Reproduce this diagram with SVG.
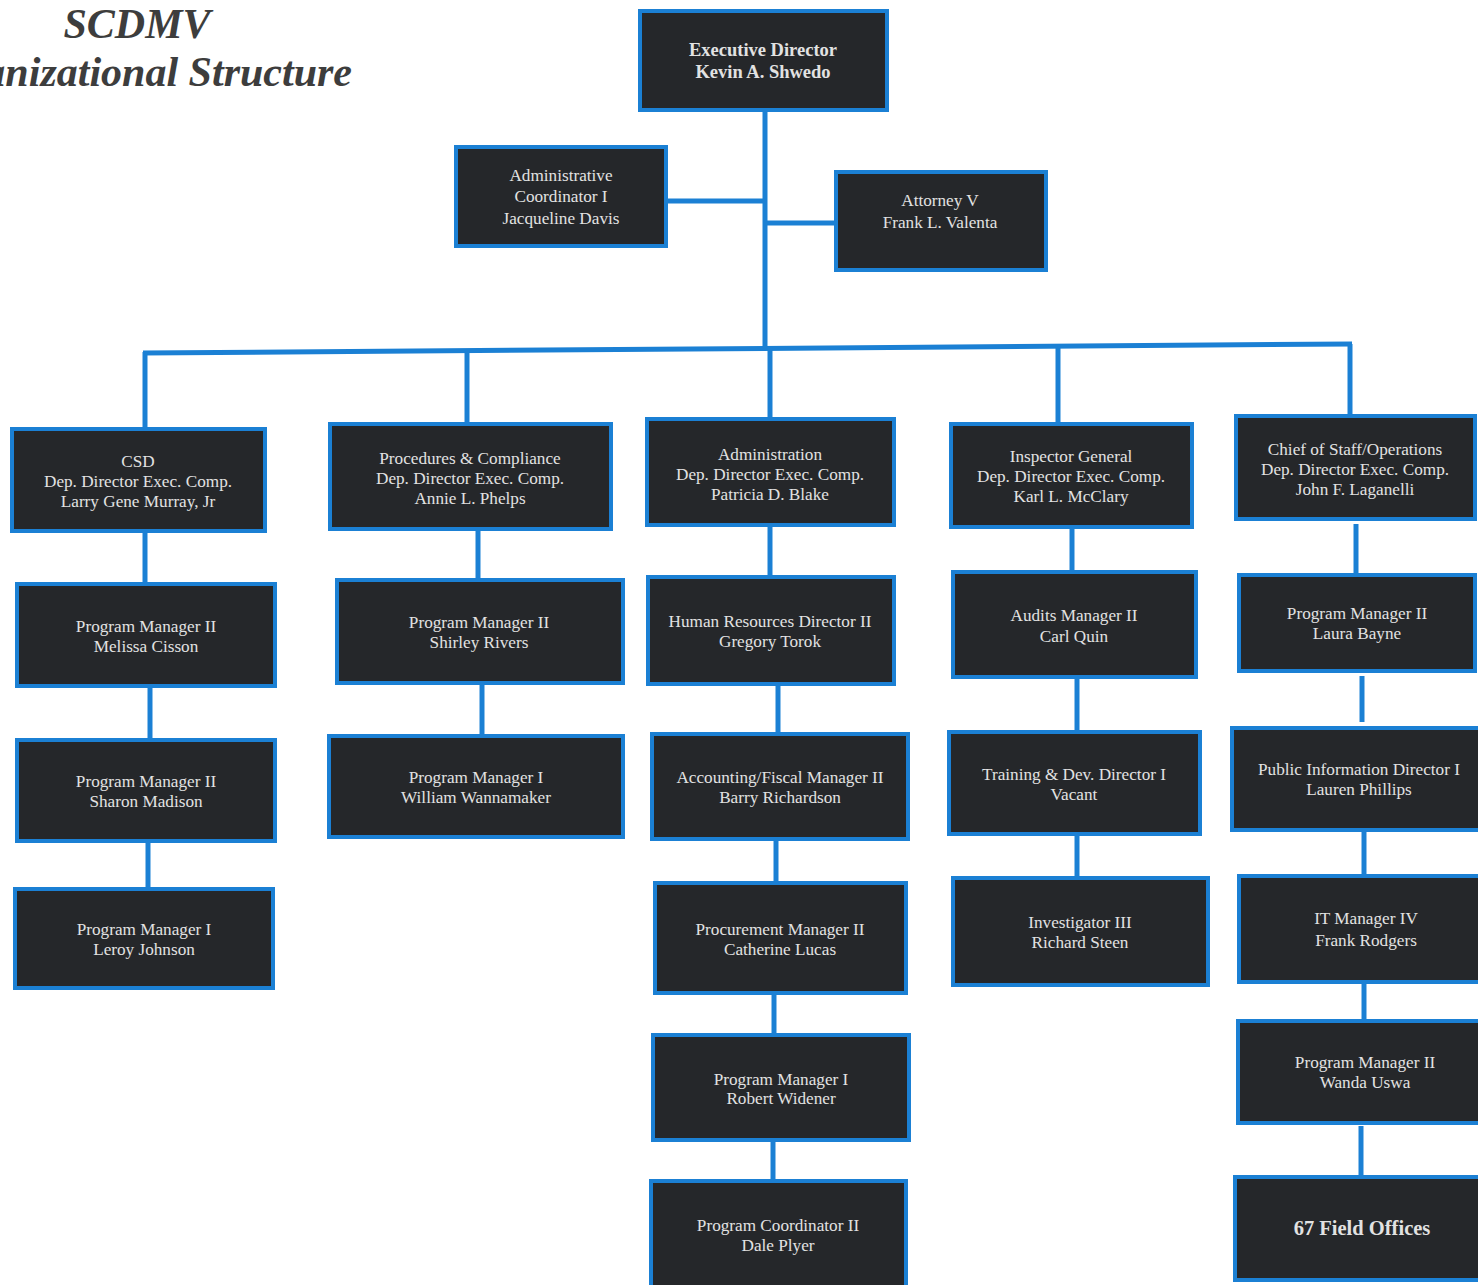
<svg xmlns="http://www.w3.org/2000/svg" width="1478" height="1285" viewBox="0 0 1478 1285">
<style>
.bg{fill:#ffffff}
.box{fill:#25272a;stroke:#1b80d4;stroke-width:4}
.t{font-family:"Liberation Serif","Times New Roman",serif;font-size:17.2px;fill:#e2e2e2;text-anchor:middle}
.b{font-weight:bold;font-size:18.5px}
.title{font-family:"Liberation Serif","Times New Roman",serif;font-size:42px;font-weight:bold;font-style:italic;fill:#3d3d3d}
.c{fill:none;stroke:#1b80d4;stroke-width:5}
</style>
<rect class="bg" x="0" y="0" width="1478" height="1285"/>
<g id="title">
<text class="title" x="137" y="38" text-anchor="middle">SCDMV</text>
<text class="title" x="352" y="86" text-anchor="end">Organizational Structure</text>
</g>
<g id="connectors">
<path class="c" d="M765,110 V350"/>
<path class="c" d="M666,201 H765"/>
<path class="c" d="M765,223 H835"/>
<path class="c" d="M143,353 L1352,344"/>
<path class="c" d="M145,352 V428"/>
<path class="c" d="M467,351 V423"/>
<path class="c" d="M770,348 V418"/>
<path class="c" d="M1058,346 V422"/>
<path class="c" d="M1350,344 V415"/>
<path class="c" d="M145,531 V583"/>
<path class="c" d="M150,686 V739"/>
<path class="c" d="M148,841 V888"/>
<path class="c" d="M478,529 V579"/>
<path class="c" d="M482,683 V735"/>
<path class="c" d="M770,525 V576"/>
<path class="c" d="M778,684 V733"/>
<path class="c" d="M776,839 V882"/>
<path class="c" d="M774,993 V1034"/>
<path class="c" d="M773,1140 V1180"/>
<path class="c" d="M1072,527 V571"/>
<path class="c" d="M1077,677 V731"/>
<path class="c" d="M1077,834 V877"/>
<path class="c" d="M1356,524 V574"/>
<path class="c" d="M1362,676 V722"/>
<path class="c" d="M1364,830 V875"/>
<path class="c" d="M1364,982 V1020"/>
<path class="c" d="M1361,1126 V1175"/>
</g>
<g id="n-exec"><rect class="box" x="640" y="11" width="247" height="99"/><text class="t b"><tspan x="763" y="56">Executive Director</tspan><tspan x="763" y="78">Kevin A. Shwedo</tspan></text></g>
<g id="n-admincoord"><rect class="box" x="456" y="147" width="210" height="99"/><text class="t"><tspan x="561" y="181">Administrative</tspan><tspan x="561" y="202">Coordinator I</tspan><tspan x="561" y="224">Jacqueline Davis</tspan></text></g>
<g id="n-attorney"><rect class="box" x="836" y="172" width="210" height="98"/><text class="t"><tspan x="940" y="206">Attorney V</tspan><tspan x="940" y="228">Frank L. Valenta</tspan></text></g>
<g id="n-csd"><rect class="box" x="12" y="429" width="253" height="102"/><text class="t"><tspan x="138" y="467">CSD</tspan><tspan x="138" y="487">Dep. Director Exec. Comp.</tspan><tspan x="138" y="507">Larry Gene Murray, Jr</tspan></text></g>
<g id="n-proc"><rect class="box" x="330" y="424" width="281" height="105"/><text class="t"><tspan x="470" y="464">Procedures &amp; Compliance</tspan><tspan x="470" y="484">Dep. Director Exec. Comp.</tspan><tspan x="470" y="504">Annie L. Phelps</tspan></text></g>
<g id="n-admin"><rect class="box" x="647" y="419" width="247" height="106"/><text class="t"><tspan x="770" y="460">Administration</tspan><tspan x="770" y="480">Dep. Director Exec. Comp.</tspan><tspan x="770" y="500">Patricia D. Blake</tspan></text></g>
<g id="n-ig"><rect class="box" x="951" y="424" width="241" height="103"/><text class="t"><tspan x="1071" y="462">Inspector General</tspan><tspan x="1071" y="482">Dep. Director Exec. Comp.</tspan><tspan x="1071" y="502">Karl L. McClary</tspan></text></g>
<g id="n-cos"><rect class="box" x="1236" y="416" width="239" height="103"/><text class="t"><tspan x="1355" y="455">Chief of Staff/Operations</tspan><tspan x="1355" y="475">Dep. Director Exec. Comp.</tspan><tspan x="1355" y="495">John F. Laganelli</tspan></text></g>
<g id="n-melissa"><rect class="box" x="17" y="584" width="258" height="102"/><text class="t"><tspan x="146" y="632">Program Manager II</tspan><tspan x="146" y="652">Melissa Cisson</tspan></text></g>
<g id="n-sharon"><rect class="box" x="17" y="740" width="258" height="101"/><text class="t"><tspan x="146" y="787">Program Manager II</tspan><tspan x="146" y="807">Sharon Madison</tspan></text></g>
<g id="n-leroy"><rect class="box" x="15" y="889" width="258" height="99"/><text class="t"><tspan x="144" y="935">Program Manager I</tspan><tspan x="144" y="955">Leroy Johnson</tspan></text></g>
<g id="n-shirley"><rect class="box" x="337" y="580" width="286" height="103"/><text class="t"><tspan x="479" y="628">Program Manager II</tspan><tspan x="479" y="648">Shirley Rivers</tspan></text></g>
<g id="n-william"><rect class="box" x="329" y="736" width="294" height="101"/><text class="t"><tspan x="476" y="783">Program Manager I</tspan><tspan x="476" y="803">William Wannamaker</tspan></text></g>
<g id="n-hr"><rect class="box" x="648" y="577" width="246" height="107"/><text class="t"><tspan x="770" y="627">Human Resources Director II</tspan><tspan x="770" y="647">Gregory Torok</tspan></text></g>
<g id="n-acct"><rect class="box" x="652" y="734" width="256" height="105"/><text class="t"><tspan x="780" y="783">Accounting/Fiscal Manager II</tspan><tspan x="780" y="803">Barry Richardson</tspan></text></g>
<g id="n-procure"><rect class="box" x="655" y="883" width="251" height="110"/><text class="t"><tspan x="780" y="935">Procurement Manager II</tspan><tspan x="780" y="955">Catherine Lucas</tspan></text></g>
<g id="n-robert"><rect class="box" x="653" y="1035" width="256" height="105"/><text class="t"><tspan x="781" y="1085">Program Manager I</tspan><tspan x="781" y="1104">Robert Widener</tspan></text></g>
<g id="n-dale"><rect class="box" x="651" y="1181" width="255" height="106"/><text class="t"><tspan x="778" y="1231">Program Coordinator II</tspan><tspan x="778" y="1251">Dale Plyer</tspan></text></g>
<g id="n-audits"><rect class="box" x="953" y="572" width="243" height="105"/><text class="t"><tspan x="1074" y="621">Audits Manager II</tspan><tspan x="1074" y="642">Carl Quin</tspan></text></g>
<g id="n-training"><rect class="box" x="949" y="732" width="251" height="102"/><text class="t"><tspan x="1074" y="780">Training &amp; Dev. Director I</tspan><tspan x="1074" y="800">Vacant</tspan></text></g>
<g id="n-invest"><rect class="box" x="953" y="878" width="255" height="107"/><text class="t"><tspan x="1080" y="928">Investigator III</tspan><tspan x="1080" y="948">Richard Steen</tspan></text></g>
<g id="n-laura"><rect class="box" x="1239" y="575" width="236" height="96"/><text class="t"><tspan x="1357" y="619">Program Manager II</tspan><tspan x="1357" y="639">Laura Bayne</tspan></text></g>
<g id="n-public"><rect class="box" x="1232" y="728" width="250" height="102"/><text class="t"><tspan x="1359" y="775">Public Information Director I</tspan><tspan x="1359" y="795">Lauren Phillips</tspan></text></g>
<g id="n-it"><rect class="box" x="1239" y="876" width="243" height="106"/><text class="t"><tspan x="1366" y="924">IT Manager IV</tspan><tspan x="1366" y="946">Frank Rodgers</tspan></text></g>
<g id="n-wanda"><rect class="box" x="1238" y="1021" width="244" height="102"/><text class="t"><tspan x="1365" y="1068">Program Manager II</tspan><tspan x="1365" y="1088">Wanda Uswa</tspan></text></g>
<g id="n-field"><rect class="box" x="1235" y="1177" width="247" height="103"/><text class="t b" style="font-size:20.5px"><tspan x="1362" y="1235">67 Field Offices</tspan></text></g>
</svg>
